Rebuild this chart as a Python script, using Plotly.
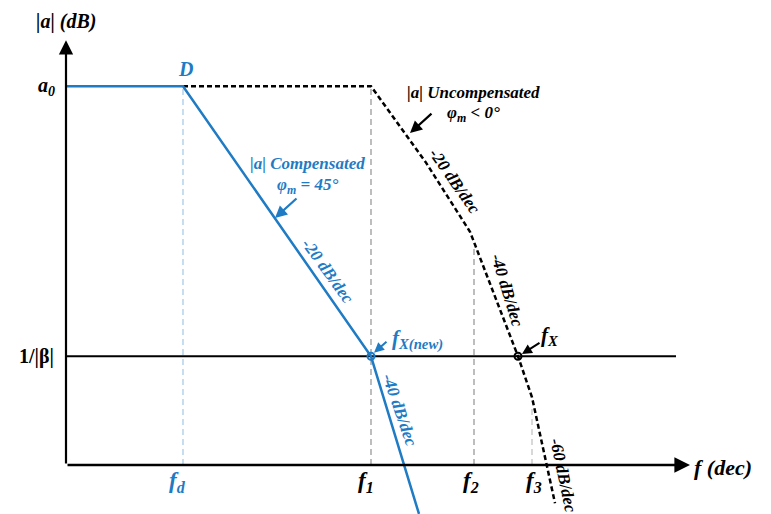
import plotly.graph_objects as go

# Asymptotic Bode magnitude plot: x in decades of frequency, y in dB
A0 = 52.6          # open-loop DC gain a0
INV_BETA = 15.1    # feedback level 1/|beta|

# break / marker frequencies (decades)
F_D, F_1, F_2, F_3 = 1.17, 3.05, 4.04, 4.66
F_X = 4.52

# compensated response |a| (blue)
comp_x = [0.0, F_D, F_1, 3.53]
comp_y = [A0, A0, INV_BETA, -6.8]

# uncompensated response |a| (black dotted)
unc_x = [F_D, F_1, 3.60, F_2, F_X, F_3, 4.89]
unc_y = [A0, A0, 42.0, 32.4, INV_BETA, 9.4, -5.3]

# frequency tick labels
tick_labels = ["f<sub>d</sub>", "f<sub>1</sub>", "f<sub>2</sub>", "f<sub>3</sub>"]
tick_pos = [1.11, 3.00, 4.05, 4.68]

BLUE = "#1f7bc4"
LIGHTBLUE = "#a9cbe8"
GRAY = "#9a9a9a"
SERIF = "Liberation Serif, Times New Roman, serif"

fig = go.Figure()

# vertical guides
guides = [
    (F_D, A0, LIGHTBLUE),
    (F_1, A0, GRAY),
    (4.08, 30.4, GRAY),
    (4.66, 8.0, "#c4c4c4"),
]
for gx, gtop, gc in guides:
    fig.add_trace(go.Scatter(x=[gx, gx], y=[0, gtop], mode="lines",
                             line=dict(color=gc, width=1.3, dash="6px,4px"),
                             hoverinfo="skip", showlegend=False))

# 1/|beta| line
fig.add_trace(go.Scatter(x=[0, 6.10], y=[INV_BETA, INV_BETA], mode="lines",
                         line=dict(color="black", width=2), showlegend=False))

# uncompensated
fig.add_trace(go.Scatter(x=unc_x, y=unc_y, mode="lines",
                         line=dict(color="black", width=2.5, dash="5px,3px"),
                         showlegend=False))
# compensated
fig.add_trace(go.Scatter(x=comp_x, y=comp_y, mode="lines",
                         line=dict(color=BLUE, width=2.5), showlegend=False))

# crossover markers
fig.add_trace(go.Scatter(x=[F_1], y=[INV_BETA], mode="markers",
                         marker=dict(symbol="circle-open", size=7, color=BLUE,
                                     line=dict(width=2)), showlegend=False))
fig.add_trace(go.Scatter(x=[F_X], y=[INV_BETA], mode="markers",
                         marker=dict(symbol="circle-open", size=7, color="black",
                                     line=dict(width=2)), showlegend=False))


def label(x, y, text, size, color="black", angle=0, italic=True):
    body = f"<i>{text}</i>" if italic else text
    fig.add_annotation(x=x, y=y, text=f"<b>{body}</b>", showarrow=False,
                       textangle=angle, xanchor="center", yanchor="middle",
                       font=dict(family=SERIF, size=size, color=color))


def arrow(x0, y0, x1, y1, color, width=2, size=1.0):
    fig.add_annotation(x=x1, y=y1, ax=x0, ay=y0, xref="x", yref="y",
                       axref="x", ayref="y", text="", showarrow=True,
                       arrowhead=2, arrowsize=size, arrowwidth=width,
                       arrowcolor=color)


# axes with arrowheads
arrow(0, 0, 0, 59.0, "black", width=2.2, size=1.3)
arrow(0, 0, 6.24, 0, "black", width=2.6, size=1.2)

# axis labels
label(0.0, 61.6, "|a| (dB)", 20)
label(6.57, -0.3, "f (dec)", 22)
label(-0.20, A0, "a<sub>0</sub>", 20)
label(-0.30, INV_BETA, "1/|β|", 20, italic=False)
for tx, tl, tc in zip(tick_pos, tick_labels,
                      [BLUE, "black", "black", "black"]):
    label(tx, -2.4, tl, 23, tc)

label(1.19, 55.0, "D", 20, BLUE)

# uncompensated annotations
label(4.07, 51.7, "|a| Uncompensated", 17)
label(4.07, 48.7, "φ<sub>m</sub> < 0°", 17)
arrow(3.67, 49.0, 3.44, 46.1, "black", width=2.2, size=1.1)
label(3.89, 39.4, "-20 dB/dec", 17, angle=55)
label(4.41, 24.2, "-40 dB/dec", 17, angle=73)
label(4.97, -1.5, "-60 dB/dec", 17, angle=78)
label(4.84, 17.9, "f<sub>X</sub>", 21)
arrow(4.75, 17.1, 4.56, 15.4, "black", width=2, size=1.0)

# compensated annotations
label(2.41, 41.9, "|a| Compensated", 17, BLUE)
label(2.41, 38.8, "φ<sub>m</sub> = 45°", 17, BLUE)
arrow(2.32, 37.2, 2.09, 34.3, BLUE, width=2.2, size=1.1)
label(2.62, 26.9, "-20 dB/dec", 17, BLUE, angle=54)
label(3.34, 7.6, "-40 dB/dec", 17, BLUE, angle=71)
label(3.51, 17.5, "f<sub>X(new)</sub>", 21, BLUE)
arrow(3.22, 17.3, 3.08, 15.6, BLUE, width=2, size=1.0)

fig.update_xaxes(range=[-0.66, 7.05], visible=False, fixedrange=True)
fig.update_yaxes(range=[-6.806, 64.583], visible=False, fixedrange=True)
fig.update_layout(width=771, height=514, margin=dict(l=0, r=0, t=0, b=0),
                  plot_bgcolor="white", paper_bgcolor="white", showlegend=False)

fig.write_html("out.html")
